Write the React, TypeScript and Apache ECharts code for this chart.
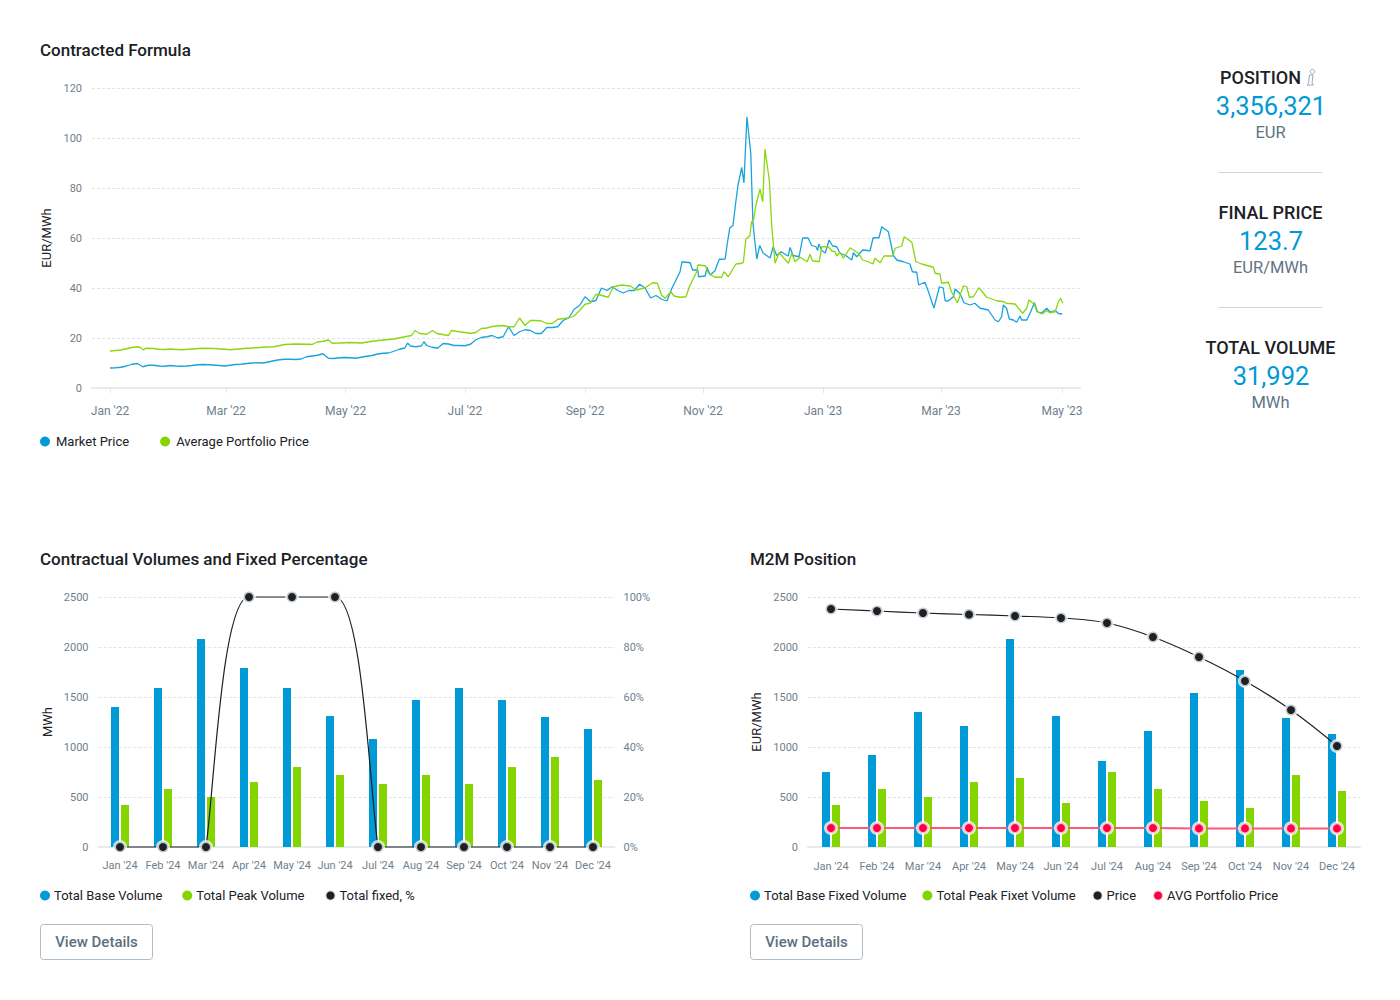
import React, { useEffect, useRef } from "react";
import * as echarts from "echarts";

const BLUE = "#009ad6";
const GREEN = "#84d500";
const INK = "#1b2126";
const GREY = "#6f808d";
const PRICE_RED = "#ff0042";

// Contracted Formula: [trading day, EUR/MWh]
const marketPrice: [number, number][] = [
  [0,8.0],[2,8.1],[4,8.3],[6,8.8],[8,9.5],[10,9.8],[12,8.5],[14,9.1],[16,9.1],[18,8.8],[20,8.7],[22,9.0],[24,8.8],[26,8.7],[28,8.8],[30,9.0],[32,9.3],[34,9.4],[36,9.3],[38,9.2],[40,9.0],[42,8.8],[44,9.1],[46,9.4],[48,9.5],[50,9.8],[52,10.0],[54,10.1],[56,10.0],[58,10.4],[60,10.9],[62,11.3],[64,11.5],[66,11.5],[68,11.4],[70,11.6],[72,12.5],[74,12.8],[76,13.1],[78,13.7],[80,11.9],[82,11.8],[84,12.1],[86,12.2],[88,12.1],[90,11.9],[92,12.3],[94,12.7],[96,13.0],[98,13.6],[100,13.9],[102,14.0],[104,14.7],[106,15.5],[108,16.0],[109,18],[110,16.8],[112,16.5],[114,16.8],[115,18.5],[116,17],[118,16.3],[120,15.9],[122,17.8],[124,17.6],[126,17],[128,17],[130,16.9],[132,17.5],[134,19.3],[136,20.2],[138,20.5],[140,21],[142,20],[144,20.5],[146,24.5],[148,21],[150,22.5],[152,23.3],[154,23],[156,21.8],[158,21.8],[160,24.2],[162,24.2],[164,24.5],[166,27],[168,28],[170,31.5],[172,33],[174,36.5],[176,34.5],[178,35],[180,40],[182,39],[184,40.5],[186,39],[188,38],[190,39],[192,39],[194,41.5],[196,40],[198,36],[200,37],[202,35.5],[204,34.8],[205.8,39.9],[207,42.5],[208.8,46.5],[209.5,50.5],[212.5,50.1],[213.4,47.2],[215.3,47.2],[215.6,44.5],[218,44.8],[218.7,48.3],[219.8,45.2],[221.6,46.9],[222.5,49.6],[223.2,51.5],[225.3,51.6],[226,57],[227,64],[228.2,65],[229,72.5],[230,81],[231.4,88.2],[232.2,82],[233.3,108.5],[234.7,94],[235.5,66],[236.9,51.6],[238,57],[239.2,54],[241.8,52],[242.9,56.5],[244.2,53],[245.8,54.5],[248.4,52.8],[249.1,56.2],[250.2,53],[252.4,52.5],[253.7,60],[255.7,60],[257,57],[258.6,56.5],[259.2,55],[259.6,57.6],[260.7,55],[262,54],[263.4,59.2],[264.7,56.8],[266.2,56.5],[267.4,53.9],[269.5,53],[271.7,51.2],[272.3,54.1],[273.5,52.5],[275.7,55.2],[278.4,54.9],[279.5,60],[281.7,60.2],[282.7,64.5],[285.1,62.5],[286,57.9],[286.9,53.1],[288.2,51.2],[290.6,50.5],[293,49.6],[293.9,46.5],[295.5,46.3],[296.2,41.2],[298.5,42.3],[299.8,38.5],[301.8,32],[303.8,40.5],[305.2,40],[305.9,34.9],[307,34.8],[308.9,36.5],[309.6,39.6],[311.4,37.6],[312.8,34.1],[315,33.2],[316.8,33.9],[318.7,31.9],[321.7,31.2],[324.2,27.2],[325.4,26.5],[326.6,28.5],[327.2,33.2],[328.4,31.9],[329.4,27.6],[330.9,27.2],[332.1,26.3],[333.3,28.8],[333.9,27.2],[335.8,27.2],[337,29.9],[338.6,34.1],[339.7,30.5],[341.3,30],[343.1,31.9],[344.3,30.4],[346.2,31],[347.4,29.8],[348.8,29.6],
];
const portfolioPrice: [number, number][] = [
  [0,14.8],[2,15],[4,15.2],[6,15.7],[8,16.2],[10,16.5],[11.2,16.2],[12.2,15.2],[13,15.9],[16,15.8],[18,15.5],[20,15.4],[22,15.6],[26,15.3],[30,15.6],[34,15.9],[38,15.8],[42,15.5],[44,15.3],[48,15.7],[52,16.0],[56,16.3],[60,16.5],[64,17.4],[68,17.6],[72,17.5],[74,17.4],[76,18.4],[78,18.7],[80,19.2],[81.4,17.9],[84,18],[88,18.2],[92,18],[96,18.7],[100,19.2],[104,19.6],[108,20.5],[110.5,21],[111.7,23],[113.5,21.8],[116,21.5],[118.2,23],[119.7,21.8],[124,21],[125,23],[128,22.5],[132,21.9],[134,22.2],[136,23.8],[138,24],[140,24.6],[144,25],[146,24.5],[148,24.5],[150,28],[152,25],[154,27],[156,27],[158,26.8],[160,25.8],[162,25.8],[164,27.5],[168,28],[170,28.8],[172,31],[174,33.5],[176,34],[178,37.5],[179.5,37.2],[182.5,36.3],[184.4,40.5],[187.4,41.2],[190.5,40.8],[193,39.2],[196,40.1],[198.8,42.1],[200.5,41.9],[202,37.2],[203.3,35.9],[205.4,38.5],[206.6,36.8],[208.8,36.3],[211,36.5],[212.2,40.5],[214.9,46.5],[215.3,49.2],[218.1,48.9],[219.2,45.9],[221.6,44.3],[224,44.3],[224.9,46.5],[226.5,44.5],[228.3,47.9],[229.3,49.6],[231.5,49.9],[232,50.3],[232.9,59.6],[234.4,60.9],[235,66.5],[235.7,67.2],[236.6,73.2],[238.1,79.6],[239.1,74.5],[239.9,95.6],[241.5,83.2],[242.4,64.5],[243.6,49.9],[245.1,54.1],[248.5,49.9],[249.7,53.9],[250.9,50.5],[252.8,52.3],[255.4,50.5],[256.4,53.5],[257.3,50.9],[259.8,50.5],[260.7,56.5],[263.1,56.5],[264.4,54.8],[265.6,54.5],[266.2,52.8],[267.4,54.3],[268.6,51.9],[271.1,56.1],[274.1,53.9],[275.7,51.2],[277.8,50.5],[279.4,49.6],[280.2,51.9],[282.1,50.1],[283.5,52.8],[286.7,52.8],[287.6,55.9],[290,56.8],[290.9,60.5],[293.7,58.3],[295.2,50.5],[297.3,49.6],[301.6,48.3],[302.2,45.9],[304,45.6],[304.6,41.9],[307.1,42.3],[308.3,38.3],[310.4,34.1],[312.6,40.9],[313.8,40.5],[314.8,36.3],[316.2,36.5],[318.3,40.1],[321.1,36.3],[324.8,34.9],[327.5,34.5],[328.2,33.9],[331.5,33.6],[334.3,29.9],[335.8,31.9],[336.6,35.2],[338.5,33.6],[339.5,30.5],[341.4,29.6],[343.1,30.9],[344.3,30.1],[346.2,30.5],[347.4,34.5],[348.2,35.9],[349,33.9],
];
const dayAxisMin = -6.6;
const dayAxisMax = 355.3;
const monthTickDays = [0, 42.5, 86.3, 130, 174, 217.2, 261.2, 304.4, 348.7];
const monthTickLabels = ["Jan '22", "Mar '22", "May '22", "Jul '22", "Sep '22", "Nov '22", "Jan '23", "Mar '23", "May '23"];

// Bottom charts
const months24 = ["Jan '24", "Feb '24", "Mar '24", "Apr '24", "May '24", "Jun '24", "Jul '24", "Aug '24", "Sep '24", "Oct '24", "Nov '24", "Dec '24"];
const totalBaseVolume = [1400, 1590, 2080, 1790, 1590, 1310, 1080, 1470, 1590, 1470, 1300, 1180];
const totalPeakVolume = [420, 580, 500, 650, 800, 720, 630, 720, 630, 800, 900, 670];
const totalFixedPct = [0, 0, 0, 100, 100, 100, 0, 0, 0, 0, 0, 0];

const baseFixedVolume = [750, 920, 1350, 1210, 2080, 1310, 860, 1160, 1540, 1770, 1290, 1130];
const peakFixedVolume = [420, 580, 500, 650, 690, 440, 750, 580, 460, 390, 720, 560];
const m2mPrice = [2380, 2360, 2340, 2325, 2310, 2290, 2240, 2100, 1900, 1660, 1370, 1010];
const avgPortfolioPrice = [190, 190, 190, 190, 190, 190, 190, 190, 186, 186, 186, 186];

// Side panel
const kpis = [
  { title: "POSITION", value: "3,356,321", unit: "EUR" },
  { title: "FINAL PRICE", value: "123.7", unit: "EUR/MWh" },
  { title: "TOTAL VOLUME", value: "31,992", unit: "MWh" },
];

const FONT = "Roboto";
const splitLine = { show: true, lineStyle: { color: "#dfe4e7", type: [3, 2] as number[], width: 1 } };
const axisLine = { show: true, lineStyle: { color: "#e6ebee", width: 2 } };
const plainNumber = (v: number) => String(v);
const tickLabel = { color: GREY, fontSize: 11, fontFamily: FONT, formatter: plainNumber };
const monthLabel = { color: GREY, fontSize: 12, fontFamily: FONT };

function txt(text: string, x: number, y: number, fontSize: number, fill: string, fontWeight = 400, align = "center") {
  return {
    type: "text",
    silent: true,
    style: { text, x, y, fontSize, fontWeight, fontFamily: FONT, fill, align, verticalAlign: "middle" },
  };
}

function button(x: number) {
  return [
    {
      type: "rect",
      silent: true,
      shape: { x: x + 0.5, y: 924.5, width: 112, height: 35, r: 3 },
      style: { fill: "#fff", stroke: "#aebcc8", lineWidth: 1 },
    },
    txt("View Details", x + 56.5, 942, 15, "#5b7080", 500),
  ];
}

function kpiGraphics() {
  const out: any[] = [];
  kpis.forEach((k, i) => {
    const dy = i * 135;
    out.push(txt(k.title, i === 0 ? 1260.5 : 1270.5, 77 + dy, 18, INK, 500));
    out.push(txt(k.value, 1271, 106 + dy, 25.5, BLUE, 400));
    out.push(txt(k.unit, 1270.5, 132 + dy, 16.5, "#5f7382", 400));
    if (i < 2) {
      out.push({
        type: "line",
        silent: true,
        shape: { x1: 1218, y1: 172.5 + dy, x2: 1322, y2: 172.5 + dy },
        style: { stroke: "#d0d9df", lineWidth: 1 },
      });
    }
  });
  // info glyph beside POSITION
  out.push({ type: "circle", silent: true, shape: { cx: 1312.5, cy: 71.5, r: 2.2 }, style: { fill: "none", stroke: "#98a8b4", lineWidth: 1 } });
  out.push({
    type: "polygon",
    silent: true,
    shape: { points: [[1309.5, 75], [1313, 75], [1312, 83], [1313.5, 85], [1307, 85], [1308.5, 83]] },
    style: { fill: "none", stroke: "#98a8b4", lineWidth: 1 },
  });
  return out;
}

function makeLegend(left: number, top: number, names: string[], itemGap: number, textPadLeft: number) {
  return {
    left,
    top,
    data: names,
    icon: "circle",
    itemWidth: 10,
    itemHeight: 10,
    itemGap,
    padding: 0,
    selectedMode: false,
    textStyle: { color: INK, fontSize: 13, fontFamily: FONT, padding: [0, 0, 0, textPadLeft] },
  };
}

const halo = { borderColor: "rgba(255,255,255,0.75)", borderWidth: 3 };

// Rising/falling spans of the fixed-% line bow towards the high value, as in the reference.
function renderFixedCurve(params: any, api: any) {
  const i = api.value(0);
  const a = api.coord([i, api.value(1)]);
  const b = api.coord([i + 1, api.value(2)]);
  const lowFirst = api.value(1) < api.value(2);
  const flat = api.value(1) === api.value(2);
  const style = { fill: "none", stroke: INK, lineWidth: 1.2 };
  if (flat) {
    return { type: "line", silent: true, shape: { x1: a[0], y1: a[1], x2: b[0], y2: b[1] }, style };
  }
  const low = lowFirst ? a : b;
  const high = lowFirst ? b : a;
  const cLow = [low[0] + (high[0] - low[0]) * 0.19, low[1] + (high[1] - low[1]) * 0.23];
  const cHigh = [low[0] + (high[0] - low[0]) * 0.37, high[1]];
  return {
    type: "bezierCurve",
    silent: true,
    shape: { x1: low[0], y1: low[1], x2: high[0], y2: high[1], cpx1: cLow[0], cpy1: cLow[1], cpx2: cHigh[0], cpy2: cHigh[1] },
    style,
  };
}

function buildOption() {
  const titleStyle = { fontSize: 17, fontWeight: 500, color: INK, fontFamily: FONT };
  return {
    animation: false,
    backgroundColor: "#fff",
    textStyle: { fontFamily: FONT },
    title: [
      { text: "Contracted Formula", left: 40, top: 41, padding: 0, textStyle: titleStyle },
      { text: "Contractual Volumes and Fixed Percentage", left: 40, top: 550, padding: 0, textStyle: titleStyle },
      { text: "M2M Position", left: 750, top: 550, padding: 0, textStyle: titleStyle },
    ],
    legend: [
      makeLegend(40, 435, ["Market Price", "Average Portfolio Price"], 31, 1),
      makeLegend(40, 889, ["Total Base Volume", "Total Peak Volume", "Total fixed, %"], 20, -1),
      makeLegend(750, 889, ["Total Base Fixed Volume", "Total Peak Fixet Volume", "Price", "AVG Portfolio Price"], 16, -1),
    ],
    grid: [
      { left: 92, top: 88, width: 988, height: 300 },
      { left: 98.5, top: 597, width: 516, height: 250 },
      { left: 808, top: 597, width: 552, height: 250 },
    ],
    xAxis: [
      {
        type: "value",
        gridIndex: 0,
        min: dayAxisMin,
        max: dayAxisMax,
        splitLine: { show: false },
        axisLine,
        axisTick: { show: true, length: 5, customValues: monthTickDays, lineStyle: { color: "#e3e7ea" } },
        axisLabel: {
          ...monthLabel,
          margin: 17,
          customValues: monthTickDays,
          formatter: (v: number) => monthTickLabels[monthTickDays.indexOf(v)] ?? "",
        },
      },
      { type: "category", gridIndex: 1, data: months24, axisLine, axisTick: { show: false }, axisLabel: { ...monthLabel, margin: 13, interval: 0, fontSize: 11 } },
      { type: "category", gridIndex: 2, data: months24, axisLine, axisTick: { show: false }, axisLabel: { ...monthLabel, margin: 14, interval: 0, fontSize: 11 } },
    ],
    yAxis: [
      {
        type: "value", gridIndex: 0, min: 0, max: 120, interval: 20,
        name: "EUR/MWh", nameLocation: "middle", nameGap: 39,
        nameTextStyle: { color: INK, fontSize: 13, fontFamily: FONT },
        axisLine: { show: false }, axisTick: { show: false }, axisLabel: { ...tickLabel, margin: 10 }, splitLine,
      },
      {
        type: "value", gridIndex: 1, min: 0, max: 2500, interval: 500,
        name: "MWh", nameLocation: "middle", nameGap: 45,
        nameTextStyle: { color: INK, fontSize: 13, fontFamily: FONT },
        axisLine: { show: false }, axisTick: { show: false }, axisLabel: { ...tickLabel, margin: 10 }, splitLine,
      },
      {
        type: "value", gridIndex: 1, position: "right", min: 0, max: 100, interval: 20,
        axisLine: { show: false }, axisTick: { show: false },
        axisLabel: { ...tickLabel, margin: 9, formatter: "{value}%" }, splitLine: { show: false },
      },
      {
        type: "value", gridIndex: 2, min: 0, max: 2500, interval: 500,
        name: "EUR/MWh", nameLocation: "middle", nameGap: 45,
        nameTextStyle: { color: INK, fontSize: 13, fontFamily: FONT },
        axisLine: { show: false }, axisTick: { show: false }, axisLabel: { ...tickLabel, margin: 10 }, splitLine,
      },
    ],
    series: [
      { name: "Market Price", type: "line", xAxisIndex: 0, yAxisIndex: 0, data: marketPrice, showSymbol: false, itemStyle: { color: BLUE }, lineStyle: { color: "#18a3dd", width: 1.3 } },
      { name: "Average Portfolio Price", type: "line", xAxisIndex: 0, yAxisIndex: 0, data: portfolioPrice, showSymbol: false, itemStyle: { color: GREEN }, lineStyle: { color: "#8ad60f", width: 1.3 } },

      { name: "Total Base Volume", type: "bar", xAxisIndex: 1, yAxisIndex: 1, data: totalBaseVolume, barWidth: 8, barGap: "25%", itemStyle: { color: BLUE } },
      { name: "Total Peak Volume", type: "bar", xAxisIndex: 1, yAxisIndex: 1, data: totalPeakVolume, barWidth: 8, barGap: "25%", itemStyle: { color: GREEN } },
      {
        name: "Fixed curve", type: "custom", xAxisIndex: 1, yAxisIndex: 2, z: 4, silent: true, clip: false,
        encode: { x: 0, y: 1 },
        data: totalFixedPct.slice(1).map((v, i) => [i, totalFixedPct[i], v]),
        renderItem: renderFixedCurve,
      },
      {
        name: "Total fixed, %", type: "line", xAxisIndex: 1, yAxisIndex: 2, data: totalFixedPct, clip: false,
        symbol: "circle", symbolSize: 11, itemStyle: { color: INK, ...halo }, lineStyle: { width: 0, opacity: 0 }, z: 5,
      },

      { name: "Total Base Fixed Volume", type: "bar", xAxisIndex: 2, yAxisIndex: 3, data: baseFixedVolume, barWidth: 8, barGap: "25%", itemStyle: { color: BLUE } },
      { name: "Total Peak Fixet Volume", type: "bar", xAxisIndex: 2, yAxisIndex: 3, data: peakFixedVolume, barWidth: 8, barGap: "25%", itemStyle: { color: GREEN } },
      {
        name: "Price", type: "line", xAxisIndex: 2, yAxisIndex: 3, data: m2mPrice, smooth: 0.4, clip: false,
        symbol: "circle", symbolSize: 11, itemStyle: { color: INK, ...halo }, lineStyle: { color: INK, width: 1.2 }, z: 5,
      },
      {
        name: "AVG Portfolio Price", type: "line", xAxisIndex: 2, yAxisIndex: 3, data: avgPortfolioPrice, clip: false,
        symbol: "circle", symbolSize: 11, itemStyle: { color: PRICE_RED, ...halo }, lineStyle: { color: "#f9587f", width: 2 }, z: 6,
      },
    ],
    graphic: [...kpiGraphics(), ...button(40), ...button(750)],
  };
}

export default function App() {
  const ref = useRef<HTMLDivElement>(null);
  useEffect(() => {
    if (!ref.current) return;
    const chart = echarts.init(ref.current, undefined, { renderer: "svg" });
    chart.setOption(buildOption() as any);
    return () => chart.dispose();
  }, []);
  return <div ref={ref} style={{ position: "absolute", left: 0, top: 0, width: 1400, height: 1000 }} />;
}
